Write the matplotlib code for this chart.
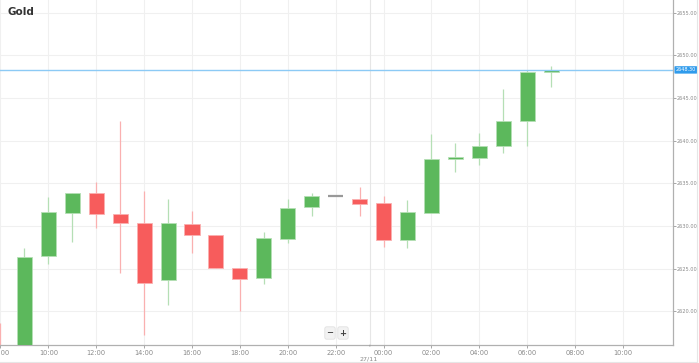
import matplotlib
matplotlib.use("Agg")
import matplotlib.pyplot as plt
from matplotlib.patches import Rectangle

# hourly candles starting 08:00 (hour offset 0)
hours = list(range(24))
opens = [2615.8, 2615.5, 2626.5, 2631.55, 2633.85, 2631.4, 2630.3, 2623.65, 2630.25, 2628.9,
         2625.05, 2623.85, 2628.5, 2632.2, 2633.5, 2633.2, 2632.65, 2628.3, 2631.55, 2637.9,
         2638.0, 2639.4, 2642.35, 2648.0]
closes = [2614.5, 2626.4, 2631.6, 2633.85, 2631.35, 2630.3, 2623.3, 2630.3, 2628.9, 2625.05,
          2623.8, 2628.55, 2632.05, 2633.5, 2633.5, 2632.6, 2628.3, 2631.6, 2637.8, 2638.1,
          2639.4, 2642.35, 2648.1, 2648.3]
highs = [2618.6, 2627.45, 2633.4, 2633.9, 2635.1, 2642.25, 2634.15, 2633.1, 2631.8, 2628.9,
         2625.05, 2629.3, 2633.1, 2633.9, 2633.5, 2634.55, 2633.45, 2633.05, 2640.8, 2639.7,
         2640.9, 2646.05, 2648.3, 2648.8]
lows = [2614.0, 2615.0, 2625.5, 2628.1, 2629.7, 2624.45, 2617.2, 2620.7, 2626.8, 2625.05,
        2620.0, 2623.15, 2627.95, 2631.2, 2633.5, 2631.2, 2627.55, 2627.45, 2631.55, 2636.3,
        2637.1, 2638.55, 2639.4, 2646.3]

tick_hours = list(range(0, 28, 2))
tick_labels = ["08:00", "10:00", "12:00", "14:00", "16:00", "18:00", "20:00", "22:00",
               "00:00", "02:00", "04:00", "06:00", "08:00", "10:00"]
y_ticks = [2620, 2625, 2630, 2635, 2640, 2645, 2650, 2655]
last_price = 2648.3
day_label = "27/11"
day_pos = 15.43

up_col, up_wick = "#5cb85c", "#b5dfb5"
dn_col, dn_wick = "#f75c5c", "#fab0b0"

fig = plt.figure(figsize=(6.99, 3.63), dpi=100)
ax = fig.add_axes([0.0, 0.0496, 0.9628, 0.9504])

ax.set_xlim(-0.02, 28.09)
ax.set_ylim(2616.03, 2656.5)

for t in tick_hours:
    ax.axvline(t, color="#f0f0f0", lw=0.8, zorder=0)
for y in y_ticks:
    ax.axhline(y, color="#f0f0f0", lw=0.8, zorder=0)
ax.axvline(day_pos, color="#e6e6e6", lw=0.8, zorder=0)

w = 0.63
for h, o, c, hi, lo in zip(hours, opens, closes, highs, lows):
    if c > o:
        col, wc = up_col, up_wick
    elif c < o:
        col, wc = dn_col, dn_wick
    else:
        col, wc = "#999999", "#999999"
    ax.vlines(h, lo, hi, color=wc, lw=0.9, zorder=2)
    bot, top = min(o, c), max(o, c)
    if top - bot < 0.15:
        ax.hlines((o + c) / 2, h - w / 2, h + w / 2, color=col, lw=1.6, zorder=3)
    else:
        ax.add_patch(Rectangle((h - w / 2, bot), w, top - bot, facecolor=col,
                               edgecolor=wc, lw=0.6, zorder=3))

ax.axhline(last_price, color="#8ccaf5", lw=1.0, zorder=4)
ax.text(1.004, last_price, f"{last_price:.2f}", transform=ax.get_yaxis_transform(),
        fontsize=3.5, color="white", va="center", ha="left", zorder=5, clip_on=False,
        bbox=dict(boxstyle="round,pad=0.25,rounding_size=0.15", fc="#2f9bec", ec="none"))

ax.set_xticks(tick_hours)
ax.set_xticklabels(tick_labels)
ax.yaxis.tick_right()
ax.set_yticks(y_ticks)
ax.set_yticklabels([f"{v:.2f}" for v in y_ticks])
ax.tick_params(axis="x", labelsize=4.8, colors="#999999", length=2.5, width=0.6, pad=1)
ax.tick_params(axis="y", labelsize=3.6, colors="#999999", length=2, width=0.6, pad=1)
for lab in ax.get_xticklabels() + ax.get_yticklabels():
    lab.set_color("#8a8a8a")

for s in ["top", "left"]:
    ax.spines[s].set_visible(False)
for s in ["right", "bottom"]:
    ax.spines[s].set_color("#b0b0b0")
    ax.spines[s].set_linewidth(0.9)

ax.annotate(day_label, xy=(day_pos, 0), xycoords=("data", "axes fraction"),
            xytext=(-1, -8), textcoords="offset points", ha="center", va="top",
            fontsize=4.6, color="#8a8a8a", annotation_clip=False)
ax.annotate("", xy=(day_pos, 0), xycoords=("data", "axes fraction"),
            xytext=(day_pos, -0.012), textcoords=("data", "axes fraction"),
            arrowprops=dict(arrowstyle="-", color="#999999", lw=0.6), annotation_clip=False)

fig.text(8 / 699, 1 - 12 / 363, "Gold", fontsize=7.5, fontweight="bold", color="#333333",
         va="center", ha="left")

for bx, sym in [(330, "\u2212"), (343, "+")]:
    fig.text(bx / 699, 1 - 333 / 363, sym, fontsize=6, fontweight="bold", color="#444444",
             ha="center", va="center",
             bbox=dict(boxstyle="round,pad=0.2", fc="#f2f2f2", ec="#dddddd", lw=0.5))

fig.add_artist(plt.Line2D([697 / 699, 697 / 699], [1 / 363, 1], color="#e6e6e6", lw=0.8))
fig.add_artist(plt.Line2D([0, 697 / 699], [1.5 / 363, 1.5 / 363], color="#e6e6e6", lw=0.8))

fig.savefig("out.png", dpi=100)
